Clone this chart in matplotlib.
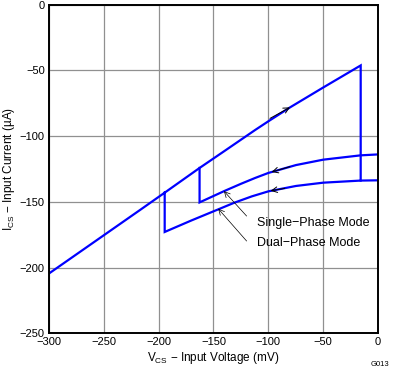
import matplotlib
matplotlib.use("Agg")
import matplotlib.pyplot as plt

plt.rcParams['font.family'] = ['Liberation Sans', 'DejaVu Sans']

# Main sweep (rising), ending at the trip point
main_x = [-300, -250, -216, -194.5, -162.7, -140, -112, -100, -80, -50, -15.8]
main_y = [-204.5, -175.4, -155.6, -143, -124.2, -111.3, -95.3, -88.7, -78, -63, -46.2]

# Dual-phase return curve (lower)
dual_x = [0, -15.8, -50, -74.8, -100, -115, -130.9, -150, -170.3, -194.5]
dual_y = [-133.6, -133.8, -135.4, -137.9, -142, -145.8, -150.6, -157.2, -164.2, -172.9]

# Single-phase return curve (upper)
single_x = [0, -15.8, -50, -74.8, -100, -112, -124.8, -140, -162.7]
single_y = [-113.9, -114.6, -117.9, -122.0, -128.0, -131.8, -136.2, -141.7, -150.4]

xticks = [-300, -250, -200, -150, -100, -50, 0]
yticks = [-250, -200, -150, -100, -50, 0]

fig = plt.figure(figsize=(3.95, 3.77), dpi=100)
ax = fig.add_axes([0.124, 0.1159, 0.833, 0.8716])

blue = '#0000ff'
lw = 1.6
# main line + drop + dual curve + rise back to main line
px = main_x + [main_x[-1]] + dual_x[1:] + [dual_x[-1]]
py = main_y + [dual_y[1]] + dual_y[1:] + [main_y[3]]
ax.plot(px, py, color=blue, lw=lw, solid_joinstyle='miter')
ax.plot(dual_x[:2], dual_y[:2], color=blue, lw=lw)
# single curve + rise back to main line
sx = single_x + [single_x[-1]]
sy = single_y + [main_y[4]]
ax.plot(sx, sy, color=blue, lw=lw, solid_joinstyle='miter')

ap = dict(arrowstyle='->', color='black', lw=0.7, shrinkA=0, shrinkB=0)
ax.annotate('', xy=(-80.3, -78.1), xytext=(-98.5, -86.5), arrowprops=ap)
ax.annotate('', xy=(-97, -127.3), xytext=(-80.3, -123.2), arrowprops=ap)
ax.annotate('', xy=(-97.9, -141.6), xytext=(-84.9, -139.7), arrowprops=ap)

ap2 = dict(arrowstyle='->', color='black', lw=0.5, shrinkA=0, shrinkB=0)
ax.annotate('', xy=(-140.5, -141.8), xytext=(-119.8, -160.8), arrowprops=ap2)
ax.annotate('', xy=(-145.7, -155.2), xytext=(-119.8, -179.8), arrowprops=ap2)
ax.text(-110.1, -166.4, 'Single\u2212Phase Mode', fontsize=9, va='center', ha='left')
ax.text(-110.1, -181.6, 'Dual\u2212Phase Mode', fontsize=9, va='center', ha='left')

ax.set_xlim(-300, 0)
ax.set_ylim(-250, 0)
ax.set_xticks(xticks)
ax.set_yticks(yticks)
ax.grid(True, color='#909090', lw=0.9)
ax.set_axisbelow(True)
ax.tick_params(length=0, labelsize=8, pad=3)
for s in ax.spines.values():
    s.set_linewidth(1.4)
    s.set_color('black')

ax.set_xlabel('V$_{\\mathregular{CS}}$ \u2212 Input Voltage (mV)', fontsize=8.5, labelpad=2)
ax.set_ylabel('I$_{\\mathregular{CS}}$ \u2212 Input Current (\u00b5A)', fontsize=8.5, labelpad=2)
fig.text(0.962, 0.032, 'G013', fontsize=5.5, ha='center', va='center')

fig.savefig('out.png', dpi=100)
